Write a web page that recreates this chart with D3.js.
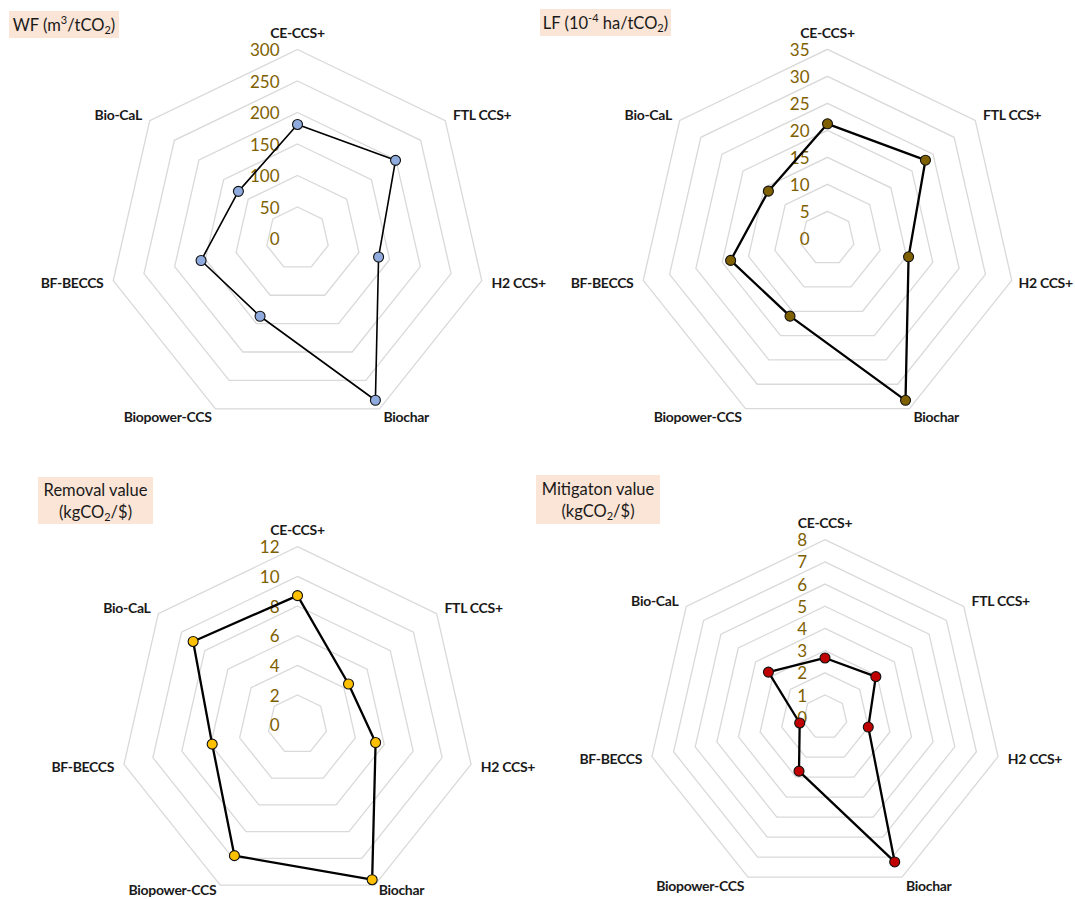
<!DOCTYPE html>
<html>
<head>
<meta charset="utf-8">
<script src="https://cdn.jsdelivr.net/npm/d3@7"></script>
<style>
  html, body { margin: 0; padding: 0; background: #ffffff; }
  svg { display: block; font-family: Lato, "Noto Sans", sans-serif; }
</style>
</head>
<body>
<svg id="chart" width="1075" height="899"></svg>
<script>
// Pathway categories, clockwise from the top
const categories = ["CE-CCS+", "FTL CCS+", "H2 CCS+", "Biochar", "Biopower-CCS", "BF-BECCS", "Bio-CaL"];

// Water footprint (m3/tCO2)
const wfValues = [181, 199, 132, 285, 137, 157, 120];
const wfTicks = [0, 50, 100, 150, 200, 250, 300];

// Land footprint (10^-4 ha/tCO2)
const lfValues = [21.2, 23.2, 15.4, 33.3, 16.0, 18.4, 14.0];
const lfTicks = [0, 5, 10, 15, 20, 25, 30, 35];

// Removal value (kgCO2/$)
const removalValues = [8.7, 4.4, 5.4, 11.6, 9.8, 5.9, 9.0];
const removalTicks = [0, 2, 4, 6, 8, 10, 12];

// Mitigation value (kgCO2/$)
const mitigationValues = [2.67, 2.93, 2.0, 7.24, 2.7, 1.17, 3.26];
const mitigationTicks = [0, 1, 2, 3, 4, 5, 6, 7, 8];

// Panel titles: text runs, with sup/sub flags
const wfTitle = [[{t: "WF (m"}, {t: "3", sup: true}, {t: "/tCO"}, {t: "2", sub: true}, {t: ")"}]];
const lfTitle = [[{t: "LF (10"}, {t: "-4", sup: true}, {t: " ha/tCO"}, {t: "2", sub: true}, {t: ")"}]];
const removalTitle = [[{t: "Removal value"}], [{t: "(kgCO"}, {t: "2", sub: true}, {t: "/$)"}]];
const mitigationTitle = [[{t: "Mitigaton value"}], [{t: "(kgCO"}, {t: "2", sub: true}, {t: "/$)"}]];

const panels = [
  { values: wfValues, ticks: wfTicks, title: wfTitle, cx: 297.5, cy: 238.5, r: 189,
    fill: "#8faadc", lineWidth: 1.6, box: { x: 9, y: 11, w: 110, h: 27 } },
  { values: lfValues, ticks: lfTicks, title: lfTitle, cx: 827.5, cy: 238.3, r: 189,
    fill: "#7f6000", lineWidth: 2.3, box: { x: 540, y: 9, w: 131, h: 27 } },
  { values: removalValues, ticks: removalTicks, title: removalTitle, cx: 297.5, cy: 724.7, r: 178,
    fill: "#ffc000", lineWidth: 2.3, box: { x: 38, y: 477, w: 115, h: 47 } },
  { values: mitigationValues, ticks: mitigationTicks, title: mitigationTitle, cx: 825, cy: 717.2, r: 177.5,
    fill: "#c00000", lineWidth: 2.3, box: { x: 536, y: 475, w: 124, h: 49 } }
];

const W = 1075, H = 899;
const svg = d3.select("#chart");
const n = categories.length;
const angle = d3.scaleLinear().domain([0, n]).range([0, 2 * Math.PI]);

function drawTitle(p) {
  const b = p.box;
  svg.append("rect")
    .attr("x", b.x).attr("y", b.y).attr("width", b.w).attr("height", b.h)
    .attr("fill", "#fbe5d6");
  const lineH = 22;
  const top = b.y + b.h / 2 - (p.title.length - 1) * lineH / 2;
  p.title.forEach((runs, li) => {
    const text = svg.append("text")
      .attr("x", b.x + b.w / 2)
      .attr("y", top + li * lineH)
      .attr("text-anchor", "middle")
      .attr("dominant-baseline", "central")
      .attr("font-size", 16.5)
      .attr("fill", "#1a1a1a");
    let shift = 0;
    runs.forEach(run => {
      const target = run.sup ? -6 : run.sub ? 4 : 0;
      const ts = text.append("tspan").text(run.t).attr("dy", target - shift);
      if (run.sup || run.sub) ts.attr("font-size", 11);
      shift = target;
    });
  });
}

panels.forEach(p => {
  drawTitle(p);

  const maxTick = d3.max(p.ticks);
  const rScale = d3.scaleLinear().domain([0, maxTick]).range([0, p.r]);
  const radial = d3.lineRadial()
    .angle((d, i) => angle(i))
    .radius(d => rScale(d))
    .curve(d3.curveLinearClosed);

  const g = svg.append("g").attr("transform", `translate(${p.cx},${p.cy})`);

  // concentric grid rings, one per tick above zero
  g.selectAll("path.grid")
    .data(p.ticks.filter(t => t > 0))
    .join("path")
    .attr("class", "grid")
    .attr("d", t => radial(categories.map(() => t)))
    .attr("fill", "none")
    .attr("stroke", "#d9d9d9")
    .attr("stroke-width", 1.3);

  // value labels along the upward axis
  g.selectAll("text.tick")
    .data(p.ticks)
    .join("text")
    .attr("class", "tick")
    .attr("x", -18)
    .attr("y", t => -rScale(t))
    .attr("text-anchor", "end")
    .attr("dominant-baseline", "central")
    .attr("font-size", 17)
    .attr("fill", "#7f6000")
    .text(t => t);

  // category labels just outside the outer ring, kept inside the page
  g.selectAll("text.cat")
    .data(categories)
    .join("text")
    .attr("class", "cat")
    .attr("font-size", 14)
    .attr("letter-spacing", -0.3)
    .attr("font-weight", "bold")
    .attr("fill", "#1a1a1a")
    .text(c => c)
    .each(function (c, i) {
      const a = angle(i);
      const s = Math.sin(a), co = Math.cos(a);
      const rr = p.r + (co > 0.9 ? 17 : co < -0.5 ? 9 : 10);
      let [x, y] = d3.pointRadial(a, rr);
      const sel = d3.select(this)
        .attr("text-anchor", s > 0.1 ? "start" : s < -0.1 ? "end" : "middle")
        .attr("dominant-baseline", "central")
        .attr("x", x).attr("y", y);
      const bb = this.getBBox();
      const overRight = p.cx + bb.x + bb.width - (W - 2);
      if (overRight > 0) x -= overRight;
      const overBottom = p.cy + bb.y + bb.height - (H - 1);
      if (overBottom > 0) y -= overBottom;
      sel.attr("x", x).attr("y", y);
    });

  // data series outline
  g.append("path")
    .attr("d", radial(p.values))
    .attr("fill", "none")
    .attr("stroke", "#000000")
    .attr("stroke-width", p.lineWidth)
    .attr("stroke-linejoin", "round");

  // markers
  g.selectAll("circle.pt")
    .data(p.values)
    .join("circle")
    .attr("class", "pt")
    .attr("cx", (d, i) => d3.pointRadial(angle(i), rScale(d))[0])
    .attr("cy", (d, i) => d3.pointRadial(angle(i), rScale(d))[1])
    .attr("r", 5)
    .attr("fill", p.fill)
    .attr("stroke", "#111111")
    .attr("stroke-width", 1.1);
});
</script>
</body>
</html>
